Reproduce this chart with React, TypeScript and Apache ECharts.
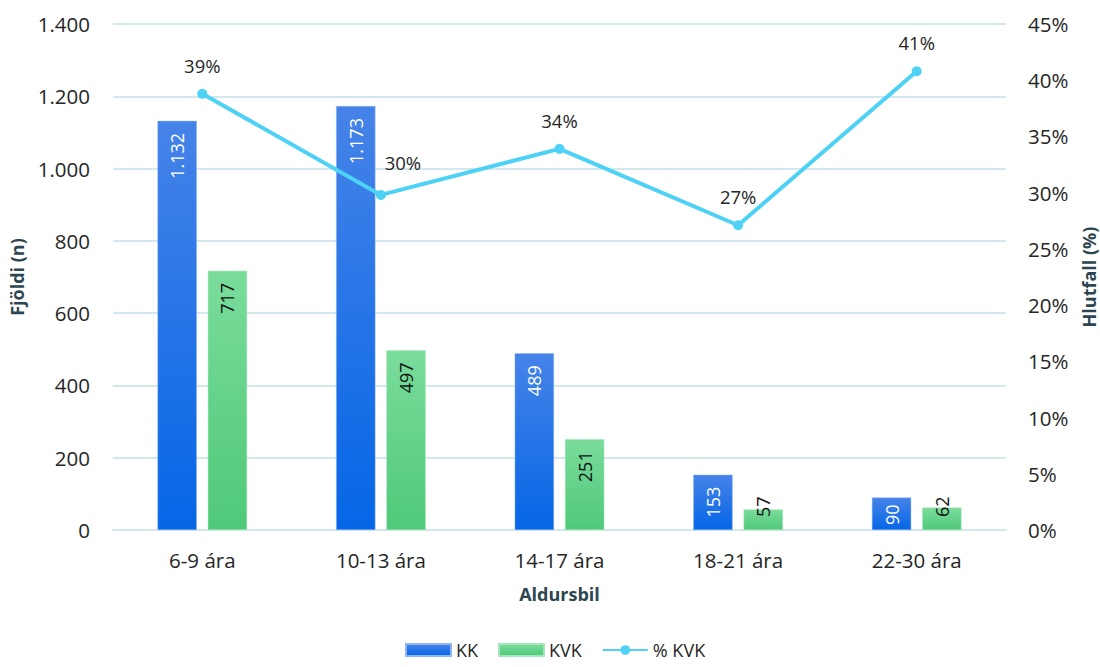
import React, { useEffect, useRef } from "react";
import * as echarts from "echarts";

const categories = ["6-9 ára", "10-13 ára", "14-17 ára", "18-21 ára", "22-30 ára"];
const kk = [1132, 1173, 489, 153, 90];
const kvk = [717, 497, 251, 57, 62];
const pctKvk = [0.388, 0.298, 0.339, 0.271, 0.408];
const leftTicks = { min: 0, max: 1400, interval: 200 };
const rightTicks = { min: 0, max: 0.45, interval: 0.05 };

const FONT = "Open Sans";
const fmtNum = (v: number) => String(v).replace(/\B(?=(\d{3})+(?!\d))/g, ".");

export default function App() {
  const ref = useRef<HTMLDivElement>(null);
  useEffect(() => {
    if (!ref.current) return;
    const chart = echarts.init(ref.current, null, { renderer: "svg" });
    const blue = new echarts.graphic.LinearGradient(0, 0, 0, 1, [
      { offset: 0, color: "#4683e8" },
      { offset: 1, color: "#0566e6" },
    ]);
    const green = new echarts.graphic.LinearGradient(0, 0, 0, 1, [
      { offset: 0, color: "#7adc9b" },
      { offset: 1, color: "#50c97a" },
    ]);
    const titleColor = "#2b4650";
    chart.setOption({
      animation: false,
      textStyle: { fontFamily: FONT },
      grid: {
        left: 113,
        right: 94,
        top: 24,
        bottom: 137,
        containLabel: false,
        outerBoundsMode: "none",
      },
      legend: {
        left: 400,
        top: 641,
        itemWidth: 45,
        itemHeight: 12,
        itemGap: 20,
        padding: [0, 5, 0, 5],
        textStyle: { fontSize: 18, color: "#262626", fontFamily: FONT },
        data: [
          { name: "KK", icon: "rect" },
          { name: "KVK", icon: "rect" },
          { name: "% KVK" },
        ],
      },
      xAxis: {
        type: "category",
        data: categories,
        axisLine: { show: true, lineStyle: { color: "#d3e8ec", width: 2 } },
        axisTick: { show: false },
        axisLabel: { fontSize: 20.5, color: "#262626", margin: 19 },
        name: "Aldursbil",
        nameLocation: "middle",
        nameGap: 55,
        nameTextStyle: { fontSize: 18, fontWeight: "bold", color: titleColor },
      },
      yAxis: [
        {
          type: "value",
          ...leftTicks,
          axisLabel: {
            fontSize: 20.5,
            color: "#262626",
            margin: 23,
            formatter: (v: number) => fmtNum(v),
          },
          axisLine: { show: false },
          axisTick: { show: false },
          splitLine: { lineStyle: { color: "#d3e8ec", width: 2 } },
          name: "Fjöldi (n)",
          nameLocation: "middle",
          nameGap: 87,
          nameTextStyle: { fontSize: 18, fontWeight: "bold", color: titleColor },
        },
        {
          type: "value",
          ...rightTicks,
          axisLabel: {
            fontSize: 20.5,
            color: "#262626",
            margin: 22,
            formatter: (v: number) => Math.round(v * 100) + "%",
          },
          axisLine: { show: false },
          axisTick: { show: false },
          splitLine: { show: false },
          name: "Hlutfall (%)",
          nameLocation: "middle",
          nameGap: 74,
          nameTextStyle: { fontSize: 18, fontWeight: "bold", color: titleColor },
        },
      ],
      series: [
        {
          name: "KK",
          type: "bar",
          data: kk.map((v) => (v < 100 ? { value: v, label: { distance: 7 } } : v)),
          barWidth: "22%",
          barGap: "28%",
          itemStyle: { color: blue, borderColor: "#8fb4f0", borderWidth: 0.5 },
          label: {
            show: true,
            position: "insideTop",
            rotate: 90,
            align: "right",
            verticalAlign: "middle",
            distance: 12,
            fontSize: 18,
            color: "#ffffff",
            formatter: (p: any) => fmtNum(p.value),
          },
        },
        {
          name: "KVK",
          type: "bar",
          data: kvk.map((v) =>
            v < 100
              ? {
                  value: v,
                  label: { position: "insideBottom", align: "left", distance: 13 },
                }
              : v
          ),
          barWidth: "22%",
          itemStyle: { color: green, borderColor: "#a6e8bd", borderWidth: 0.5 },
          label: {
            show: true,
            position: "insideTop",
            rotate: 90,
            align: "right",
            verticalAlign: "middle",
            distance: 12,
            fontSize: 18,
            color: "#111111",
            formatter: (p: any) => fmtNum(p.value),
          },
        },
        {
          name: "% KVK",
          type: "line",
          yAxisIndex: 1,
          data: pctKvk.map((v, i) =>
            i === 1 ? { value: v, label: { offset: [22, -4] } } : v
          ),
          symbol: "circle",
          symbolSize: 10,
          lineStyle: { color: "#4dd2f6", width: 4 },
          itemStyle: { color: "#4dd2f6" },
          label: {
            show: true,
            position: "top",
            distance: 14,
            fontSize: 18.5,
            color: "#262626",
            formatter: (p: any) => Math.round(p.value * 100) + "%",
          },
        },
      ],
    });
    return () => chart.dispose();
  }, []);
  return (
    <div
      ref={ref}
      style={{ position: "absolute", left: 0, top: 0, width: 1100, height: 667 }}
    />
  );
}
